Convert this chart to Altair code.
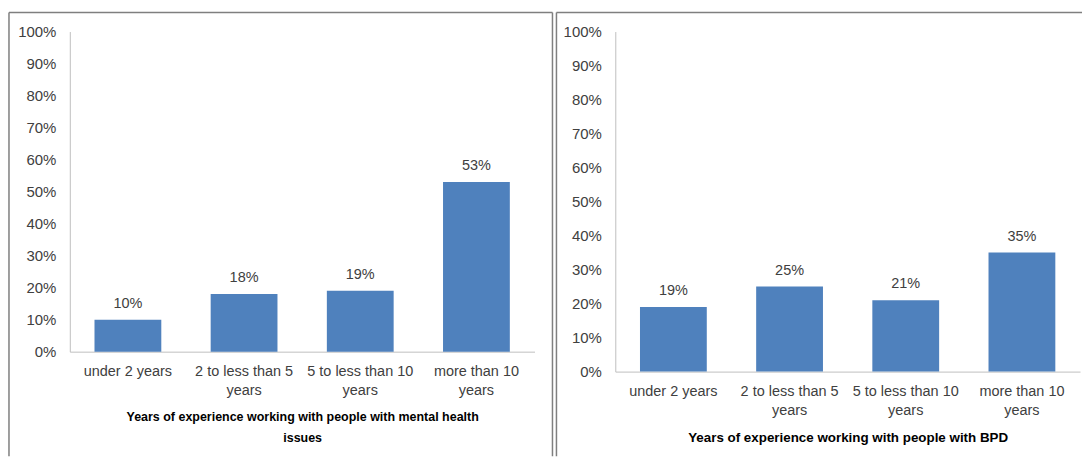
import altair as alt
import pandas as pd

categories = ["under 2 years", "2 to less than 5 years", "5 to less than 10 years", "more than 10 years"]
mental_health = [0.10, 0.18, 0.19, 0.53]
bpd = [0.19, 0.25, 0.21, 0.35]
title_left = ["Years of experience working with people with mental health", "issues"]
title_right = "Years of experience working with people with BPD"
y_ticks = [0.0, 0.1, 0.2, 0.3, 0.4, 0.5, 0.6, 0.7, 0.8, 0.9, 1.0]

FONT = "Liberation Sans"
BAR = "#4F81BD"
TEXT = "#404040"
AXIS = "#BFBFBF"
BORDER = "#7F7F7F"

LABEL_EXPR = ("datum.label == 'under 2 years' ? datum.label : "
              "[replace(datum.label, ' years', ''), 'years']")


def panel(values, title, title_size, height, bx1, bx2, by1, by2):
    df = pd.DataFrame({"cat": categories, "val": values})
    x = alt.X(
        "cat:N", sort=categories,
        scale=alt.Scale(paddingInner=0, paddingOuter=0),
        axis=alt.Axis(
            title=title, labelExpr=LABEL_EXPR, labelAngle=0, ticks=False,
            domainColor=AXIS, labelColor=TEXT, labelFont=FONT, labelFontSize=14.5,
            labelPadding=13, labelLineHeight=19, labelOverlap=False,
            titleFont=FONT, titleFontSize=title_size, titleFontWeight="bold",
            titleColor="#000000", titlePadding=14, titleLineHeight=21,
        ),
    )
    y = alt.Y(
        "val:Q", scale=alt.Scale(domain=[0, 1]),
        axis=alt.Axis(
            format=".0%", values=y_ticks, tickCount=11, grid=False, ticks=False,
            labelOverlap=False,
            domainColor=AXIS, labelColor=TEXT, labelFont=FONT, labelFontSize=15,
            labelPadding=14, title=None,
        ),
    )
    bars = alt.Chart(df).mark_bar(color=BAR, width=alt.RelativeBandSize(0.575)).encode(x=x, y=y)
    labels = alt.Chart(df).mark_text(
        baseline="bottom", dy=-9, font=FONT, fontSize=14.5, color=TEXT
    ).encode(
        x=x,
        y=y,
        text=alt.Text("val:Q", format=".0%"),
    )
    one = pd.DataFrame({"a": [0]})
    top = alt.Chart(one).mark_rule(color=BORDER, strokeWidth=1.5).encode(
        x=alt.value(bx1), x2=alt.value(bx2), y=alt.value(by1))
    left = alt.Chart(one).mark_rule(color=BORDER, strokeWidth=1.5).encode(
        x=alt.value(bx1), y=alt.value(by1), y2=alt.value(by2))
    return alt.layer(bars, labels, top, left).properties(width=466, height=height)


p1 = panel(mental_health, title_left, 12.5, 321, -61, 484, -19, 426)
right_line = alt.Chart(pd.DataFrame({"a": [0]})).mark_rule(color=BORDER, strokeWidth=1.5).encode(
    x=alt.value(484), y=alt.value(-19), y2=alt.value(426))
p1 = alt.layer(p1, right_line)
p2 = panel(bpd, title_right, 13.4, 341, -59, 468, -19, 426)

chart = alt.hconcat(p1, p2, spacing=2).properties(
    padding={"left": 8, "top": 11, "right": 0, "bottom": 0},
    background="white",
).configure_view(stroke=None)

chart.save("out.html", embed_options={"renderer": "svg", "actions": False})
